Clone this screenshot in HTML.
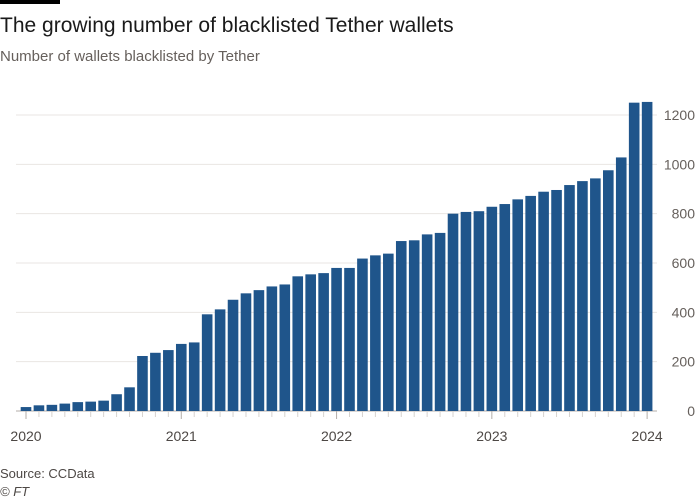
<!DOCTYPE html>
<html><head><meta charset="utf-8"><style>
body{margin:0;background:#fff;width:700px;height:500px;overflow:hidden;font-family:"Liberation Sans",sans-serif}
svg{display:block}
</style></head><body>
<svg id="c" width="700" height="500">
<rect x="0" y="0" width="60" height="4" fill="#000"/>
<text x="0" y="32" font-size="21" fill="#1a1a1a">The growing number of blacklisted Tether wallets</text>
<text x="0" y="61" font-size="15" fill="#66605c">Number of wallets blacklisted by Tether</text>
<g id="grid"></g><g id="bars"></g><g id="axes"></g>
<text x="0" y="478" font-size="13" fill="#4d4845">Source: CCData</text>
<text x="0" y="496" font-size="13" font-style="italic" fill="#4d4845">© FT</text>
</svg>
<script>
const values=[16,23,25,30,36,38,42,68,96,223,236,247,272,278,392,412,451,477,490,505,513,546,554,559,580,580,618,631,638,689,692,716,722,800,807,810,828,839,858,872,889,896,916,932,943,976,1028,1250,1253];
const yTicks=[0,200,400,600,800,1000,1200];
const yearLabels=["2020","2021","2022","2023","2024"];
const NS="http://www.w3.org/2000/svg";
const x0=26,step=12.94,bw=10.6,y0=411,ppu=296/1200;
const xs=i=>x0+i*step, ys=v=>y0-v*ppu;
function mk(t,a,p){const e=document.createElementNS(NS,t);for(const k in a)e.setAttribute(k,a[k]);p.appendChild(e);return e;}
const g=document.getElementById('grid'),b=document.getElementById('bars'),ax=document.getElementById('axes');
yTicks.forEach(v=>{
 const l=mk('line',{x1:16,x2:657,y1:ys(v),y2:ys(v),stroke:v===0?'#b3aeaa':'#e9e6e3','stroke-width':1},g);
 
 
 const t=mk('text',{x:695,y:ys(v)+5,'text-anchor':'end','font-size':14,fill:'#66605c'},ax);
 t.textContent=v;
 
 
});
values.forEach((v,i)=>{
 const r=mk('rect',{x:xs(i)-bw/2,y:ys(v),width:bw,height:v*ppu,fill:'#1f558b'},b);
 
 
 const yr=i%12===0;
 const tk=mk('line',{x1:xs(i),x2:xs(i),y1:y0,y2:y0+(yr?8:6),stroke:yr?'#b3aeaa':'#d6d2ce','stroke-width':1},ax);
 
 
});
yearLabels.forEach((s,k)=>{
 const t=mk('text',{x:xs(k*12),y:441,'text-anchor':'middle','font-size':14,fill:'#4d4845'},ax);
 t.textContent=s;
 
 
});
</script>
</body></html>
